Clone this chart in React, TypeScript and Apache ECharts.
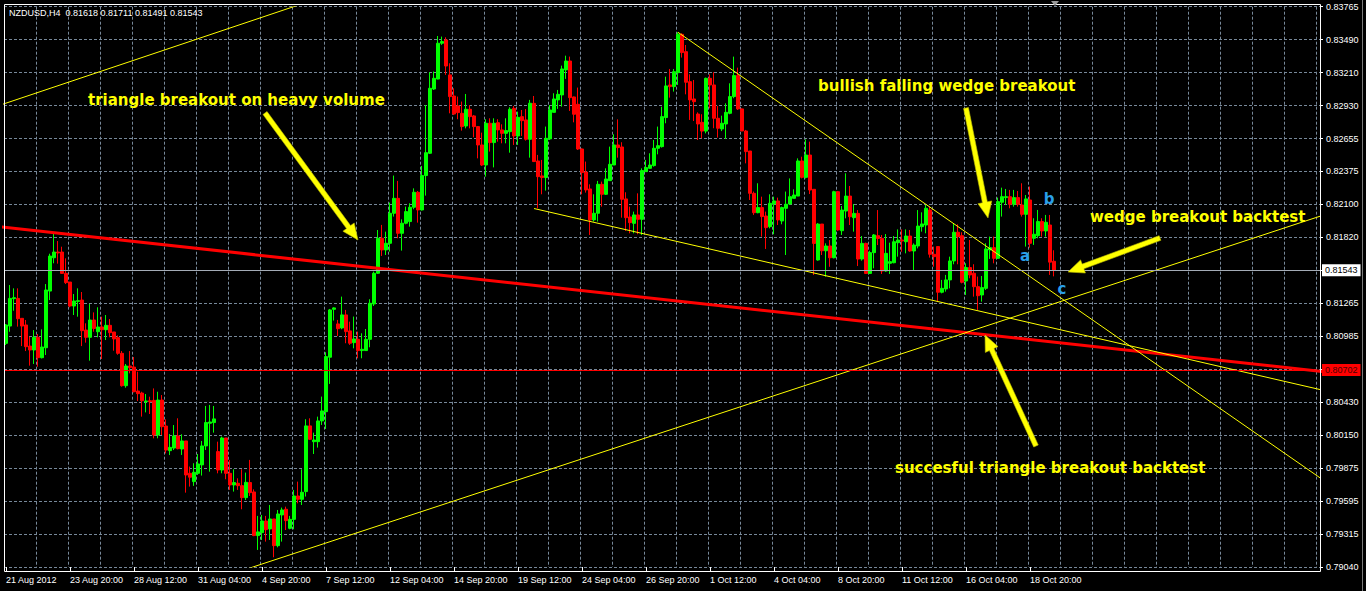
import React, { useEffect, useRef } from 'react';
import * as echarts from 'echarts';

// ---- candle values (NZDUSD H4, 21 Aug 2012 04:00 .. 19 Oct 2012 20:00) ----
const opens = [
  0.80926,0.81072,0.81303,0.81305,0.81137,0.81081,0.80903,0.80870,0.80977,0.80805,
  0.80889,0.81367,0.81648,0.81696,0.81696,0.81516,0.81443,0.81241,0.81280,0.81291,
  0.81038,0.80977,0.81123,0.81024,0.81064,0.81041,0.81078,0.81022,0.80974,0.80842,
  0.80569,0.80735,0.80726,0.80524,0.80507,0.80434,0.80442,0.80445,0.80153,0.80448,
  0.80229,0.80021,0.80043,0.80145,0.80035,0.80103,0.79830,0.79760,0.79830,0.79901,
  0.80061,0.80252,0.80258,0.80013,0.79858,0.80128,0.79830,0.79732,0.79746,0.79726,
  0.79625,0.79752,0.79673,0.79305,0.79330,0.79428,0.79361,0.79445,0.79220,0.79479,
  0.79527,0.79366,0.79442,0.79639,0.79611,0.79676,0.80230,0.80097,0.80097,0.80272,
  0.80350,0.80809,0.81213,0.81090,0.81056,0.81166,0.81031,0.80932,0.80960,0.80865,
  0.80865,0.80960,0.81258,0.81517,0.81812,0.81714,0.81770,0.82023,0.82149,0.81854,
  0.81939,0.81953,0.82074,0.82200,0.82051,0.82341,0.82529,0.83071,0.83155,0.83457,
  0.83485,0.83190,0.83012,0.82928,0.82866,0.82759,0.82900,0.82844,0.82754,0.82599,
  0.82430,0.82782,0.82619,0.82787,0.82726,0.82697,0.82711,0.82908,0.82675,0.82838,
  0.82810,0.82647,0.82950,0.82464,0.82338,0.82324,0.82650,0.82874,0.82979,0.83021,
  0.83232,0.83307,0.83004,0.82942,0.82565,0.82371,0.82228,0.81967,0.82023,0.82267,
  0.82183,0.82298,0.82430,0.82599,0.82582,0.82144,0.81992,0.81938,0.82009,0.81972,
  0.82374,0.82402,0.82425,0.82571,0.82585,0.82830,0.83105,0.83091,0.83209,0.83532,
  0.83386,0.83133,0.82987,0.82860,0.82790,0.82716,0.83161,0.83105,0.82824,0.82734,
  0.82776,0.82866,0.83007,0.83184,0.82903,0.82717,0.82548,0.82191,0.82028,0.82071,
  0.82000,0.81910,0.82102,0.82127,0.81958,0.82065,0.82101,0.82149,0.82168,0.82464,
  0.82326,0.82514,0.82225,0.81629,0.81932,0.81707,0.81747,0.81648,0.82205,0.81876,
  0.82042,0.82168,0.81986,0.82022,0.81637,0.81769,0.81516,0.81691,0.81834,0.81811,
  0.81536,0.81601,0.81606,0.81775,0.81797,0.81783,0.81831,0.81705,0.81747,0.81910,
  0.81924,0.82051,0.81677,0.81742,0.81357,0.81385,0.81461,0.81621,0.81863,0.81834,
  0.81452,0.81565,0.81517,0.81404,0.81334,0.81390,0.81714,0.81733,0.81643,0.82116,
  0.82155,0.82163,0.82099,0.82155,0.82093,0.82014,0.82135,0.81812,0.81834,0.81953,
  0.81874,0.81924,0.81618,
];
const highs = [
  0.81089,0.81418,0.81390,0.81390,0.81137,0.81123,0.80982,0.81038,0.81005,0.81044,
  0.81426,0.81682,0.81848,0.81789,0.81741,0.81643,0.81443,0.81342,0.81390,0.81359,
  0.81095,0.81258,0.81187,0.81230,0.81151,0.81165,0.81131,0.81022,0.80993,0.80861,
  0.80752,0.80861,0.80811,0.80687,0.80518,0.80499,0.80476,0.80546,0.80518,0.80490,
  0.80285,0.80161,0.80237,0.80294,0.80159,0.80103,0.79887,0.79915,0.79993,0.80103,
  0.80398,0.80407,0.80398,0.80097,0.80140,0.80128,0.79943,0.79864,0.79788,0.79864,
  0.79836,0.79943,0.79695,0.79471,0.79479,0.79471,0.79563,0.79445,0.79521,0.79541,
  0.79549,0.79471,0.79690,0.79760,0.79864,0.80286,0.80294,0.80173,0.80308,0.80477,
  0.80851,0.81216,0.81230,0.81124,0.81320,0.81208,0.81109,0.81152,0.81025,0.81011,
  0.81047,0.81298,0.81531,0.81882,0.81925,0.81868,0.82113,0.82341,0.82296,0.81972,
  0.82079,0.82107,0.82233,0.82211,0.82422,0.82936,0.83212,0.83218,0.83518,0.83513,
  0.83507,0.83288,0.83077,0.83007,0.82965,0.83029,0.82936,0.82852,0.82759,0.82703,
  0.82816,0.82824,0.82824,0.82816,0.82773,0.82824,0.82917,0.82928,0.82880,0.82894,
  0.82902,0.82979,0.83012,0.82515,0.82473,0.82754,0.82936,0.83035,0.83063,0.83268,
  0.83352,0.83344,0.83007,0.83083,0.82571,0.82459,0.82267,0.82183,0.82296,0.82290,
  0.82402,0.82585,0.82689,0.82815,0.82622,0.82200,0.82079,0.82037,0.82191,0.82402,
  0.82473,0.82529,0.82641,0.82754,0.82922,0.83175,0.83240,0.83240,0.83549,0.83541,
  0.83442,0.83195,0.83147,0.82874,0.82858,0.83167,0.83195,0.83212,0.82928,0.82846,
  0.82950,0.83119,0.83344,0.83251,0.82908,0.82726,0.82548,0.82206,0.82276,0.82163,
  0.82037,0.82183,0.82163,0.82155,0.82079,0.82206,0.82317,0.82225,0.82486,0.82500,
  0.82646,0.82627,0.82225,0.81940,0.81932,0.81769,0.81797,0.82213,0.82211,0.82084,
  0.82360,0.82253,0.82101,0.82050,0.81831,0.81775,0.81707,0.81848,0.82050,0.81840,
  0.81848,0.81775,0.81831,0.81887,0.81887,0.81887,0.81882,0.81769,0.82050,0.82031,
  0.82093,0.82079,0.81742,0.81742,0.81461,0.81503,0.81657,0.81938,0.81930,0.81863,
  0.81601,0.81798,0.81593,0.81489,0.81494,0.81770,0.81826,0.81826,0.82155,0.82239,
  0.82228,0.82220,0.82220,0.82211,0.82276,0.82177,0.82248,0.81981,0.82051,0.81981,
  0.82009,0.82009,0.81711,
];
const lows = [
  0.80912,0.81024,0.81201,0.81067,0.80903,0.80861,0.80738,0.80752,0.80729,0.80799,
  0.80828,0.81291,0.81601,0.81598,0.81511,0.81426,0.81230,0.81165,0.81151,0.80903,
  0.80932,0.80780,0.81024,0.80977,0.80794,0.80954,0.80977,0.80864,0.80830,0.80561,
  0.80552,0.80673,0.80513,0.80440,0.80308,0.80344,0.80330,0.80125,0.80125,0.80153,
  0.79998,0.79984,0.80026,0.80032,0.79985,0.79667,0.79718,0.79724,0.79816,0.79811,
  0.80027,0.79844,0.80173,0.79830,0.79830,0.79780,0.79690,0.79676,0.79690,0.79527,
  0.79605,0.79639,0.79300,0.79184,0.79268,0.79254,0.79268,0.79122,0.79206,0.79254,
  0.79352,0.79358,0.79358,0.79577,0.79563,0.79634,0.80111,0.79993,0.80047,0.80238,
  0.80204,0.80584,0.81118,0.80988,0.81045,0.80927,0.80913,0.80884,0.80800,0.80800,
  0.80865,0.80893,0.81241,0.81511,0.81663,0.81671,0.81700,0.81995,0.81812,0.81708,
  0.81930,0.81910,0.82057,0.81944,0.82046,0.82172,0.82523,0.83063,0.83153,0.83443,
  0.83190,0.82866,0.82852,0.82816,0.82720,0.82739,0.82739,0.82664,0.82486,0.82422,
  0.82332,0.82543,0.82410,0.82627,0.82613,0.82613,0.82534,0.82599,0.82599,0.82675,
  0.82636,0.82492,0.82455,0.82065,0.82183,0.82214,0.82641,0.82874,0.82903,0.82922,
  0.83156,0.82886,0.82790,0.82557,0.82183,0.82197,0.81840,0.81953,0.81953,0.82079,
  0.82177,0.82296,0.82430,0.82492,0.81986,0.81874,0.81854,0.81854,0.81846,0.81840,
  0.82374,0.82397,0.82416,0.82520,0.82577,0.82782,0.82998,0.83049,0.83105,0.83336,
  0.83026,0.82810,0.82801,0.82641,0.82655,0.82697,0.82908,0.82740,0.82661,0.82716,
  0.82650,0.82858,0.82993,0.82894,0.82716,0.82444,0.82135,0.82009,0.82023,0.81826,
  0.81722,0.81896,0.81846,0.81924,0.81930,0.81671,0.82093,0.82149,0.82168,0.82317,
  0.82317,0.82185,0.81502,0.81623,0.81671,0.81488,0.81572,0.81643,0.81876,0.81840,
  0.81980,0.81924,0.81868,0.81578,0.81623,0.81511,0.81511,0.81559,0.81755,0.81511,
  0.81530,0.81511,0.81601,0.81657,0.81699,0.81685,0.81699,0.81544,0.81727,0.81868,
  0.81854,0.81649,0.81573,0.81278,0.81348,0.81362,0.81390,0.81593,0.81593,0.81432,
  0.81334,0.81475,0.81320,0.81208,0.81278,0.81376,0.81638,0.81601,0.81638,0.81995,
  0.82093,0.82065,0.82079,0.82079,0.81995,0.81742,0.81733,0.81756,0.81812,0.81826,
  0.81826,0.81503,0.81491,
];
const closes = [
  0.81081,0.81305,0.81311,0.81134,0.81072,0.80898,0.80870,0.80977,0.80805,0.80895,
  0.81376,0.81662,0.81696,0.81688,0.81516,0.81438,0.81241,0.81283,0.81286,0.81033,
  0.80977,0.81123,0.81052,0.81064,0.81041,0.81078,0.81016,0.80963,0.80842,0.80569,
  0.80735,0.80721,0.80518,0.80502,0.80442,0.80440,0.80434,0.80153,0.80448,0.80223,
  0.80026,0.80049,0.80145,0.80038,0.80103,0.79816,0.79797,0.79839,0.79909,0.80061,
  0.80258,0.80263,0.80289,0.79858,0.80128,0.79830,0.79732,0.79752,0.79726,0.79625,
  0.79754,0.79667,0.79305,0.79336,0.79428,0.79355,0.79445,0.79220,0.79487,0.79521,
  0.79431,0.79442,0.79639,0.79611,0.79670,0.80230,0.80117,0.80111,0.80272,0.80356,
  0.80814,0.81208,0.81225,0.81050,0.81166,0.81025,0.80927,0.80963,0.80865,0.80876,
  0.80960,0.81264,0.81517,0.81812,0.81714,0.81770,0.82023,0.82149,0.81854,0.81939,
  0.82037,0.82074,0.82200,0.82051,0.82341,0.82534,0.83077,0.83161,0.83457,0.83471,
  0.83265,0.83007,0.82860,0.82872,0.82754,0.82900,0.82838,0.82754,0.82599,0.82430,
  0.82782,0.82619,0.82782,0.82726,0.82697,0.82720,0.82900,0.82675,0.82832,0.82804,
  0.82647,0.82951,0.82459,0.82332,0.82324,0.82655,0.82894,0.82987,0.83026,0.83240,
  0.83307,0.82998,0.82858,0.82565,0.82366,0.82220,0.81967,0.82023,0.82267,0.82183,
  0.82312,0.82436,0.82599,0.82577,0.82141,0.81986,0.81944,0.82009,0.81972,0.82383,
  0.82408,0.82430,0.82571,0.82593,0.82838,0.83097,0.83091,0.83217,0.83532,0.83378,
  0.83128,0.82979,0.82964,0.82776,0.82716,0.83161,0.83105,0.82824,0.82740,0.82782,
  0.82874,0.83007,0.83184,0.82903,0.82717,0.82543,0.82191,0.82028,0.82071,0.81995,
  0.81902,0.82107,0.82127,0.81967,0.82071,0.82099,0.82163,0.82177,0.82464,0.82326,
  0.82514,0.82219,0.81769,0.81932,0.81707,0.81747,0.81648,0.82205,0.81882,0.82050,
  0.82168,0.81994,0.82022,0.81637,0.81769,0.81516,0.81691,0.81840,0.81811,0.81536,
  0.81685,0.81615,0.81783,0.81797,0.81789,0.81831,0.81705,0.81755,0.81915,0.81933,
  0.82065,0.81677,0.81657,0.81357,0.81390,0.81461,0.81621,0.81863,0.81826,0.81441,
  0.81565,0.81503,0.81404,0.81328,0.81396,0.81722,0.81733,0.81643,0.82121,0.82163,
  0.82163,0.82099,0.82155,0.82099,0.82014,0.82144,0.81770,0.81846,0.81953,0.81874,
  0.81947,0.81611,0.81543,
];

// ---- axis tick labels ----
const xTickLabels = [
  '21 Aug 2012', '23 Aug 20:00', '28 Aug 12:00', '31 Aug 04:00', '4 Sep 20:00',
  '7 Sep 12:00', '12 Sep 04:00', '14 Sep 20:00', '19 Sep 12:00', '24 Sep 04:00',
  '26 Sep 20:00', '1 Oct 12:00', '4 Oct 04:00', '8 Oct 20:00', '11 Oct 12:00',
  '16 Oct 04:00', '18 Oct 20:00',
];
const yTickLabels = [
  '0.79040', '0.79315', '0.79595', '0.79875', '0.80150', '0.80430', '', '0.80985',
  '0.81265', '', '0.81820', '0.82100', '0.82375', '0.82655', '0.82930', '0.83210',
  '0.83490', '0.83765',
];
const priceMin = 0.7904;
const priceMax = 0.83765;
const BAR_SLOTS = 329;
const LABEL_EVERY = 16;

// ---- horizontal levels ----
const bidPrice = 0.81543;
const redLevelPrice = 0.80702;

// ---- trend lines: [barIndex, price] ----
const redTrendLine = [[-2, 0.8191], [332, 0.80678]];
const upperLeftLine = [[-2, 0.82929], [80, 0.83857]];
const triangleSupportLine = [[40, 0.78799], [335, 0.8207]];
const wedgeUpperLine = [[168, 0.83549], [335, 0.7964]];
const wedgeLowerLine = [[132, 0.82063], [335, 0.80486]];

// ---- annotations ----
const notes = [
  { text: 'triangle breakout on heavy volume', x: 88, y: 100 },
  { text: 'bullish falling wedge breakout', x: 818, y: 86 },
  { text: 'wedge breakout backtest', x: 1090, y: 217 },
  { text: 'succesful triangle breakout backtest', x: 895, y: 468 },
];
const waveLetters = [
  { text: 'a', x: 1025, y: 256 },
  { text: 'b', x: 1049, y: 199 },
  { text: 'c', x: 1062, y: 289 },
];
const arrowList = [
  [265, 113, 358, 240],
  [966, 108, 988, 218],
  [1160, 238, 1068, 272],
  [1036, 446, 985, 335],
];

function arrowPoints(x1: number, y1: number, x2: number, y2: number) {
  const shaft = 2.5, headLen = 16, headHalf = 7;
  const dx = x2 - x1, dy = y2 - y1;
  const len = Math.hypot(dx, dy);
  const ux = dx / len, uy = dy / len;
  const px = -uy, py = ux;
  const bx = x2 - ux * headLen, by = y2 - uy * headLen;
  return [
    [x1 + px * shaft, y1 + py * shaft],
    [bx + px * shaft, by + py * shaft],
    [bx + px * headHalf, by + py * headHalf],
    [x2, y2],
    [bx - px * headHalf, by - py * headHalf],
    [bx - px * shaft, by - py * shaft],
    [x1 - px * shaft, y1 - py * shaft],
  ];
}

const FONT = '"Liberation Sans", Arial, sans-serif';

function buildOption() {
  const categories = Array.from({ length: BAR_SLOTS }, (_, i) =>
    i % LABEL_EVERY === 0 && i / LABEL_EVERY < xTickLabels.length ? xTickLabels[i / LABEL_EVERY] : ''
  );
  const candles = opens.map((o, i) => [o, closes[i], lows[i], highs[i]]);
  const last = opens.length - 1;
  const header = `NZDUSD,H4  ${opens[last].toFixed(5)} ${highs[last].toFixed(5)} ${lows[last].toFixed(5)} ${closes[last].toFixed(5)}`;

  const trend = (data: number[][], color: string, width: number) => ({
    type: 'line',
    xAxisIndex: 1,
    yAxisIndex: 0,
    data,
    symbol: 'none',
    showSymbol: false,
    clip: true,
    silent: true,
    z: 4,
    lineStyle: { color, width },
  });

  const showLabel = (_: number, v: string) => v !== '';

  const graphics: any[] = [
    {
      type: 'rect', z: 100, silent: true,
      shape: { x: 4.5, y: 4.5, width: 1316, height: 567 },
      style: { fill: 'none', stroke: '#ffffff', lineWidth: 1 },
    },
    {
      type: 'polygon', z: 100, silent: true,
      shape: { points: [[1051, 1], [1059, 1], [1055, 6]] },
      style: { fill: '#9a9a9a' },
    },
    {
      type: 'rect', z: 100, silent: true,
      shape: { x: 1362, y: 0, width: 1, height: 591 },
      style: { fill: '#7a7a7a' },
    },
    {
      type: 'text', z: 100, silent: true,
      style: { text: header, x: 9, y: 13, fill: '#ffffff', font: `9px ${FONT}`, verticalAlign: 'middle', textVerticalAlign: 'middle' },
    },
  ];
  notes.forEach((n) =>
    graphics.push({
      type: 'text', z: 110, silent: true,
      style: {
        text: n.text, x: n.x, y: n.y, fill: '#ffff00',
        font: 'bold 15px "DejaVu Sans", sans-serif',
        verticalAlign: 'middle', textVerticalAlign: 'middle',
        textShadowColor: '#5a5a00', textShadowOffsetX: 1, textShadowOffsetY: 1,
      },
    })
  );
  waveLetters.forEach((n) =>
    graphics.push({
      type: 'text', z: 110, silent: true,
      style: {
        text: n.text, x: n.x, y: n.y, fill: '#2a9fe8',
        font: 'bold 15px "DejaVu Sans", sans-serif',
        align: 'center', textAlign: 'center', verticalAlign: 'middle', textVerticalAlign: 'middle',
      },
    })
  );
  arrowList.forEach(([x1, y1, x2, y2]) =>
    graphics.push({
      type: 'polygon', z: 110, silent: true,
      shape: { points: arrowPoints(x1, y1, x2, y2) },
      style: { fill: '#ffff00', stroke: '#b8b800', lineWidth: 0.6 },
    })
  );

  return {
    animation: false,
    backgroundColor: '#000000',
    textStyle: { fontFamily: FONT },
    grid: { left: 4, right: 46, top: 6.7, bottom: 24, show: false },
    xAxis: [
      {
        type: 'category',
        data: categories,
        boundaryGap: true,
        offset: 4,
        axisLine: { show: false },
        axisTick: { show: true, alignWithLabel: true, interval: showLabel, length: 4, lineStyle: { color: '#ffffff' } },
        axisLabel: { show: true, interval: showLabel, color: '#ffffff', fontSize: 9, fontFamily: FONT, align: 'left', margin: 4 },
        splitLine: { show: true, interval: 7, lineStyle: { color: '#778899', type: [3, 2], width: 1 } },
      },
      { type: 'value', min: -0.5, max: BAR_SLOTS - 0.5, show: false },
    ],
    yAxis: [
      { type: 'value', min: priceMin, max: priceMax, show: false, scale: true },
      {
        type: 'value',
        position: 'right',
        min: 0,
        max: yTickLabels.length - 1,
        interval: 1,
        axisLine: { show: false },
        axisTick: { show: true, length: 3, lineStyle: { color: '#ffffff' } },
        axisLabel: {
          color: '#ffffff', fontSize: 9, fontFamily: FONT, margin: 6,
          formatter: (v: number) => (Number.isInteger(v) ? yTickLabels[v] : ''),
        },
        splitLine: { show: true, lineStyle: { color: '#778899', type: [3, 2], width: 1 } },
      },
    ],
    series: [
      {
        type: 'candlestick',
        xAxisIndex: 0,
        yAxisIndex: 0,
        data: candles,
        barWidth: 2.8,
        silent: true,
        z: 3,
        itemStyle: {
          color: '#00ff00', color0: '#ff0000',
          borderColor: '#00ff00', borderColor0: '#ff0000', borderWidth: 1,
        },
      },
      {
        type: 'line',
        xAxisIndex: 1,
        yAxisIndex: 0,
        data: [],
        clip: false,
        silent: true,
        z: 3,
        markLine: {
          silent: true,
          precision: 5,
          symbol: ['none', 'none'],
          data: [
            {
              yAxis: bidPrice,
              lineStyle: { color: '#a4acb6', width: 1, type: 'solid' },
              label: {
                show: true, position: 'end', distance: 2, formatter: bidPrice.toFixed(5),
                color: '#000000', backgroundColor: '#ffffff', padding: [2, 3, 1, 3],
                fontSize: 9, fontFamily: FONT,
              },
            },
            {
              yAxis: redLevelPrice,
              lineStyle: { color: '#ff0000', width: 1, type: 'solid' },
              label: {
                show: true, position: 'end', distance: 2, formatter: redLevelPrice.toFixed(5),
                color: '#4a0000', backgroundColor: '#ff0000', padding: [2, 3, 1, 3],
                fontSize: 9, fontFamily: FONT,
              },
            },
          ],
        },
      },
      trend(redTrendLine, '#ff0000', 3),
      trend(upperLeftLine, '#ffff00', 1),
      trend(triangleSupportLine, '#ffff00', 1),
      trend(wedgeUpperLine, '#ffff00', 1),
      trend(wedgeLowerLine, '#ffff00', 1),
    ],
    graphic: { elements: graphics },
  };
}

export default function App() {
  const ref = useRef<HTMLDivElement>(null);
  useEffect(() => {
    if (!ref.current) return;
    const chart = echarts.init(ref.current, null, { renderer: 'svg' });
    chart.setOption(buildOption() as any);
    return () => chart.dispose();
  }, []);
  return (
    <div
      ref={ref}
      style={{ position: 'fixed', left: 0, top: 0, width: 1366, height: 591, background: '#000000' }}
    />
  );
}
